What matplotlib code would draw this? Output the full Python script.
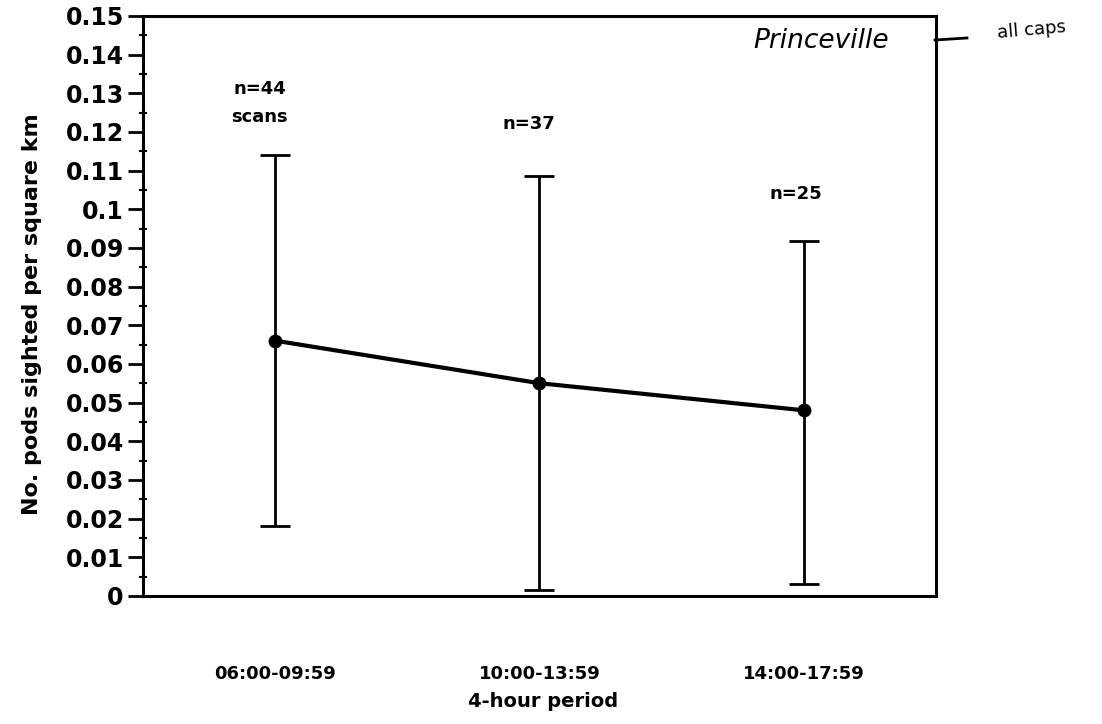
import numpy as np
import matplotlib
matplotlib.use("Agg")
import matplotlib.pyplot as plt
from matplotlib.lines import Line2D
from matplotlib.ticker import MultipleLocator

plt.rcParams['font.family'] = ['DejaVu Sans']

# data
periods = ["06:00-09:59", "10:00-13:59", "14:00-17:59"]
mean_pods = [0.066, 0.055, 0.048]
upper = [0.114, 0.1087, 0.0917]
lower = [0.018, 0.0015, 0.003]
n_labels = ["n=44\nscans", "n=37", "n=25"]
n_label_y = [0.1275, 0.122, 0.104]
n_label_x = [-0.06, 0.96, 1.97]

x = np.arange(len(periods))
mean_arr = np.array(mean_pods)
yerr = [mean_arr - np.array(lower), np.array(upper) - mean_arr]

fig = plt.figure(figsize=(11.02, 7.24), dpi=100)
ax = fig.add_axes([0.130, 0.177, 0.719, 0.801])

ax.errorbar(x, mean_pods, yerr=yerr, fmt='none', ecolor='black',
            elinewidth=2, capsize=11, capthick=2)
ax.plot(x, mean_pods, color='black', linewidth=3, marker='o', markersize=9)

for xi, yi, txt in zip(n_label_x, n_label_y, n_labels):
  ax.text(xi, yi, txt, ha='center', va='center', fontsize=13,
          fontweight='bold', linespacing=1.75)

ax.set_xlim(-0.5, 2.5)
ax.set_ylim(0, 0.15)
ax.yaxis.set_major_locator(MultipleLocator(0.01))
ax.yaxis.set_minor_locator(MultipleLocator(0.005))
ax.set_yticklabels([f"{v:g}" for v in ax.get_yticks()])
ax.set_ylim(0, 0.15)
ax.tick_params(axis='y', which='major', direction='out', length=11, width=2,
               labelsize=17, pad=3)
ax.tick_params(axis='y', which='minor', direction='inout', length=6, width=1.5)
for lab in ax.get_yticklabels():
  lab.set_fontweight('bold')

ax.set_xticks(x)
ax.set_xticklabels(periods, fontsize=13, fontweight='bold')
ax.tick_params(axis='x', length=0, pad=50)

for sp in ax.spines.values():
  sp.set_linewidth(2.2)

ax.set_xlabel("4-hour period", fontsize=14, fontweight='bold')
ax.xaxis.set_label_coords(0.505, -0.166)
ax.set_ylabel("No. pods sighted per square km", fontsize=16, fontweight='bold')
ax.yaxis.set_label_coords(-0.128, 0.486)

# handwritten annotation on the scan
fig.text(821 / 1102, 1 - 41 / 724, "Princeville", fontsize=19, ha='center',
         va='center', style='italic')
fig.add_artist(Line2D([935 / 1102, 967 / 1102], [1 - 40 / 724, 1 - 38 / 724],
                      color='black', linewidth=2))
fig.text(1032 / 1102, 1 - 30 / 724, "all caps", fontsize=13, ha='center',
         va='center', rotation=5)

fig.savefig("out.png", dpi=100)
